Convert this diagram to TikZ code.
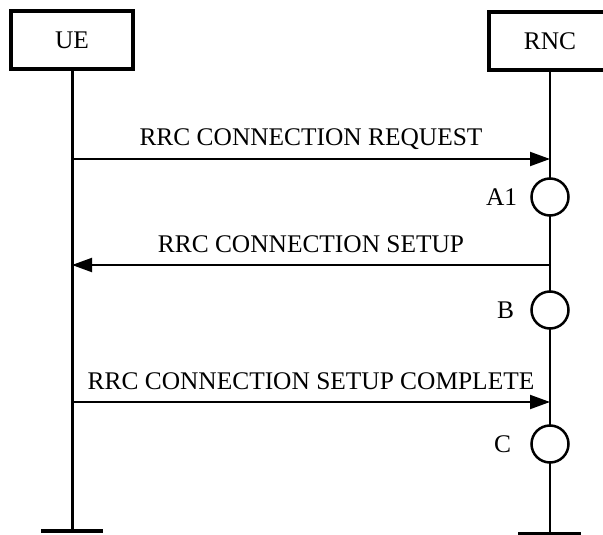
\documentclass[tikz,border=0pt]{standalone}
\usepackage{fontspec}
\setmainfont{Liberation Serif}
\usetikzlibrary{arrows.meta,positioning}
\tikzset{
  entity/.style={draw, line width=4pt, minimum width=122pt, minimum height=58pt, inner sep=0pt, font=\fontsize{25.4}{30}\selectfont},
  lbl/.style={inner sep=0pt, text depth=0pt, font=\fontsize{25.4}{30}\selectfont},
  msg/.style={line width=2pt, -{Triangle[length=20pt,width=14pt]}},
  proc/.style={circle, draw, line width=2.5pt, fill=white, minimum size=37pt, inner sep=0pt},
  endbar/.style={line width=4pt}
}
\begin{document}
\begin{tikzpicture}[x=1pt,y=-1pt]
\useasboundingbox (0,0) rectangle (603,535);
\node[entity] (ue) at (72,40) {UE};
\node[entity] (rnc) at (550,41) {RNC};

\coordinate (ue end) at (72,531);
\coordinate (rnc end) at (550,533);
\draw[line width=3pt] (ue) -- (ue end);
\draw[line width=2pt] (rnc) -- (rnc end);
\draw[endbar] ([xshift=-31pt]ue end) -- ([xshift=31pt]ue end);
\draw[endbar, line width=3pt] ([xshift=-32pt]rnc end) -- ([xshift=31pt]rnc end);

\coordinate (m1a) at (72,159);  \coordinate (m1b) at (550,159);
\coordinate (m2a) at (72,265);  \coordinate (m2b) at (550,265);
\coordinate (m3a) at (72,402);  \coordinate (m3b) at (550,402);
\draw[msg] (m1a) -- node[lbl, above=12pt]{RRC CONNECTION REQUEST} (m1b);
\draw[msg] (m2b) -- node[lbl, above=12pt]{RRC CONNECTION SETUP} (m2a);
\draw[msg] (m3a) -- node[lbl, above=12pt]{RRC CONNECTION SETUP COMPLETE} (m3b);

\node[proc] (a1) at (550,197) {};
\node[proc] (b) at (550,310) {};
\node[proc] (c) at (550,444) {};
\node[lbl, left=13pt of a1] (a1 lbl) {A1};
\node[lbl, left=16pt of b] (b lbl) {B};
\node[lbl, left=19pt of c] (c lbl) {C};
\end{tikzpicture}
\end{document}
